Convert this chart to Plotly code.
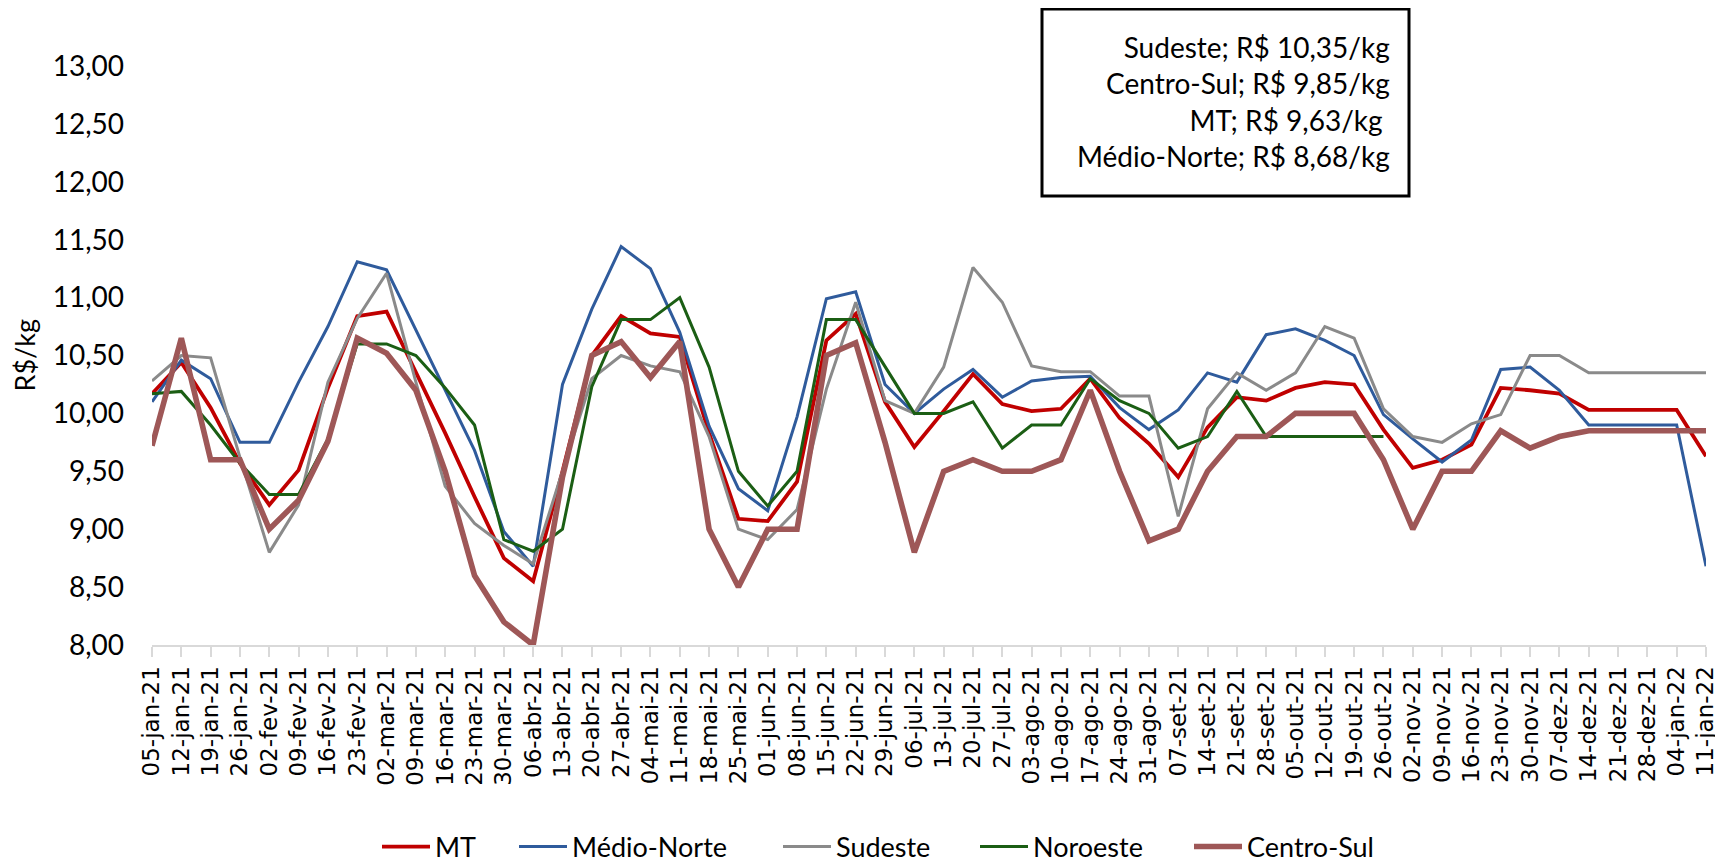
import plotly.graph_objects as go

# weekly dates (category axis)
datas = [
    "05-jan-21", "12-jan-21", "19-jan-21", "26-jan-21", "02-fev-21", "09-fev-21", "16-fev-21", "23-fev-21",
    "02-mar-21", "09-mar-21", "16-mar-21", "23-mar-21", "30-mar-21", "06-abr-21", "13-abr-21", "20-abr-21",
    "27-abr-21", "04-mai-21", "11-mai-21", "18-mai-21", "25-mai-21", "01-jun-21", "08-jun-21", "15-jun-21",
    "22-jun-21", "29-jun-21", "06-jul-21", "13-jul-21", "20-jul-21", "27-jul-21", "03-ago-21", "10-ago-21",
    "17-ago-21", "24-ago-21", "31-ago-21", "07-set-21", "14-set-21", "21-set-21", "28-set-21", "05-out-21",
    "12-out-21", "19-out-21", "26-out-21", "02-nov-21", "09-nov-21", "16-nov-21", "23-nov-21", "30-nov-21",
    "07-dez-21", "14-dez-21", "21-dez-21", "28-dez-21", "04-jan-22", "11-jan-22",
]

mt = [10.17, 10.44, 10.05, 9.57, 9.21, 9.51, 10.22, 10.84, 10.88, 10.36, 9.83, 9.28, 8.75, 8.55,
      9.50, 10.50, 10.84, 10.69, 10.66, 9.83, 9.09, 9.07, 9.41, 10.63, 10.86, 10.10, 9.71, 10.02,
      10.34, 10.08, 10.02, 10.04, 10.30, 9.96, 9.74, 9.45, 9.88, 10.14, 10.11, 10.22, 10.27, 10.25,
      9.86, 9.53, 9.60, 9.73, 10.22, 10.20, 10.17, 10.03, 10.03, 10.03, 10.03, 9.63]

medio_norte = [10.10, 10.46, 10.30, 9.75, 9.75, 10.27, 10.75, 11.31, 11.24, 10.72, 10.20, 9.68, 8.98,
               8.68, 10.25, 10.90, 11.44, 11.25, 10.70, 9.89, 9.35, 9.16, 9.97, 10.99, 11.05, 10.25,
               10.00, 10.21, 10.38, 10.14, 10.28, 10.31, 10.32, 10.05, 9.86, 10.03, 10.35, 10.27, 10.68,
               10.73, 10.63, 10.50, 9.99, 9.78, 9.58, 9.77, 10.38, 10.40, 10.20, 9.90, 9.90, 9.90, 9.90, 8.68]

sudeste = [10.28, 10.50, 10.48, 9.62, 8.80, 9.21, 10.27, 10.82, 11.21, 10.27, 9.37, 9.05, 8.86, 8.70,
           9.50, 10.30, 10.50, 10.41, 10.36, 9.80, 9.00, 8.91, 9.17, 10.21, 10.96, 10.11, 10.00, 10.40,
           11.26, 10.96, 10.41, 10.36, 10.36, 10.15, 10.15, 9.11, 10.04, 10.35, 10.20, 10.35, 10.75,
           10.65, 10.04, 9.80, 9.75, 9.91, 9.99, 10.50, 10.50, 10.35, 10.35, 10.35, 10.35, 10.35]

noroeste = [10.17, 10.19, 9.90, 9.57, 9.30, 9.30, 9.78, 10.60, 10.60, 10.50, 10.22, 9.90, 8.91, 8.81,
            9.00, 10.23, 10.81, 10.81, 11.00, 10.40, 9.50, 9.20, 9.50, 10.81, 10.81, 10.41, 10.00, 10.00,
            10.10, 9.70, 9.90, 9.90, 10.30, 10.11, 10.00, 9.70, 9.80, 10.19, 9.80, 9.80, 9.80, 9.80,
            9.80, None, None, None, None, None, None, None, None, None, None, None]

centro_sul = [9.72, 10.65, 9.60, 9.60, 9.00, 9.25, 9.76, 10.65, 10.52, 10.20, 9.50, 8.60, 8.20, 8.00,
              9.45, 10.50, 10.62, 10.31, 10.62, 9.00, 8.50, 9.00, 9.00, 10.50, 10.61, 9.75, 8.80, 9.50,
              9.60, 9.50, 9.50, 9.60, 10.20, 9.50, 8.90, 9.00, 9.50, 9.80, 9.80, 10.00, 10.00, 10.00,
              9.60, 9.00, 9.50, 9.50, 9.85, 9.70, 9.80, 9.85, 9.85, 9.85, 9.85, 9.85]

ultimos = ["Sudeste; R$ 10,35/kg", "Centro-Sul; R$ 9,85/kg", "MT; R$ 9,63/kg ", "Médio-Norte; R$ 8,68/kg"]

# name, values, colour, width, legend id, legend x (px in figure)
series = [
    ("MT", mt, "#C00000", 3.8, "legend", 369),
    ("Médio-Norte", medio_norte, "#2F5B9C", 3.0, "legend2", 506),
    ("Sudeste", sudeste, "#8A8A8A", 3.0, "legend3", 770),
    ("Noroeste", noroeste, "#1B5E14", 3.0, "legend4", 967),
    ("Centro-Sul", centro_sul, "#9E5757", 5.6, "legend5", 1181),
]

W, H = 1715, 855  # the page body adds 8px around the figure

fig = go.Figure()
legendas = {}
for nome, valores, cor, larg, leg, lx in series:
    fig.add_trace(go.Scatter(x=datas, y=valores, name=nome, mode="lines", legend=leg,
                             line=dict(color=cor, width=larg)))
    legendas[leg] = dict(orientation="h", xref="container", x=lx / W, xanchor="left",
                         yref="container", y=1 - 839 / H, yanchor="middle",
                         font=dict(family="Lato", size=27), itemwidth=48,
                         bgcolor="rgba(0,0,0,0)")

fig.update_layout(
    width=W, height=H,
    margin=dict(l=144, r=17, t=58, b=218),
    paper_bgcolor="white", plot_bgcolor="white",
    separators=",.",
    font=dict(family="Lato", color="black"),
    showlegend=True,
    **legendas,
)

fig.update_xaxes(
    type="category", range=[0, 53], automargin=False,
    showline=True, linecolor="#D9D9D9", linewidth=2,
    ticks="outside", ticklen=10, tickcolor="#D9D9D9", tickwidth=2,
    tickangle=-90, tickfont=dict(family="DejaVu Sans", size=23, color="black"),
    showgrid=False, zeroline=False,
)

fig.update_yaxes(
    range=[8, 13], dtick=0.5, tickformat=".2f", automargin=False,
    showline=False, showgrid=False, zeroline=False,
    ticklabelstandoff=27,
    tickfont=dict(family="Lato", size=28, color="black"),
)

# y axis title, placed by hand further left than plotly would put it
fig.add_annotation(xref="paper", yref="paper", x=(16 - 144) / 1554, y=0.5,
                   xanchor="center", yanchor="middle", textangle=-90, showarrow=False,
                   text="R$/kg", font=dict(family="Lato", size=27, color="black"))

# caixa com os últimos preços
fig.add_shape(type="rect", xref="paper", yref="paper",
              x0=(1042 - 152) / 1554, x1=(1409 - 152) / 1554,
              y0=(645 - 196) / 579, y1=(645 - 9) / 579,
              line=dict(color="black", width=3), fillcolor="white")
fig.add_annotation(xref="paper", yref="paper", x=(1392 - 152) / 1554, y=(645 - 101) / 579,
                   xanchor="right", yanchor="middle", align="right", showarrow=False,
                   text="<br>".join(ultimos), font=dict(family="Lato", size=28, color="black"))

fig.write_html("out.html")
